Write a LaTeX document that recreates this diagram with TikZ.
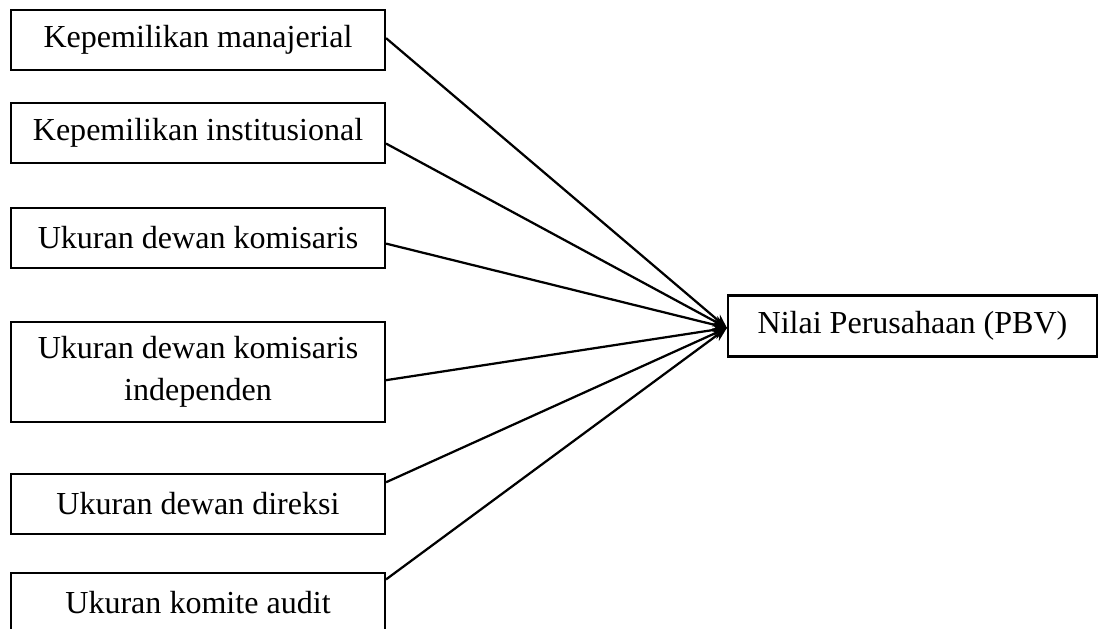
\documentclass[tikz,border=0pt]{standalone}
\usepackage{fontspec}
\setmainfont{Liberation Serif}
\usetikzlibrary{arrows.meta,calc}
\tikzset{
  vbox/.style={draw=black,line width=1.5pt,fill=white,minimum width=9.35cm,minimum height=1.5cm,align=center,inner sep=0pt,font=\fontsize{22.8}{29.5}\selectfont},
  a/.style  ={-{Stealth[length=10pt,width=8pt]},line width=1.6pt,black},
}

\begin{document}
\begin{tikzpicture}
\useasboundingbox (0,0) rectangle (27.475,-15.7);
% independent variables
\node[vbox] (km)   at (4.95,-1.0)    {Kepemilikan manajerial};
\node[vbox] (ki)   at (4.95,-3.325)  {Kepemilikan institusional};
\node[vbox] (udk)  at (4.95,-5.95)   {Ukuran dewan komisaris};
\node[vbox,minimum height=2.5cm] (udki) at (4.95,-9.3) {Ukuran dewan komisaris\\independen};
\node[vbox] (udd)  at (4.95,-12.6)   {Ukuran dewan direksi};
\node[vbox] (uka)  at (4.95,-15.075) {Ukuran komite audit};
% dependent variable
\node[vbox,minimum width=9.225cm,minimum height=1.525cm] (nilai) at (22.8125,-8.15) {Nilai Perusahaan (PBV)};
% arrows
\coordinate (tip) at ($(nilai.north west)!.53!(nilai.south west)$);
\draw[a] ($(km.north east)!.47!(km.south east)$) -- (tip);
\draw[a] ($(ki.north east)!.67!(ki.south east)$) -- (tip);
\draw[a] ($(udk.north east)!.59!(udk.south east)$) -- (tip);
\draw[a] ($(udki.north east)!.58!(udki.south east)$) -- (tip);
\draw[a] ($(udd.north east)!.15!(udd.south east)$) -- (tip);
\draw[a] ($(uka.north east)!.12!(uka.south east)$) -- (tip);
\end{tikzpicture}
\end{document}
